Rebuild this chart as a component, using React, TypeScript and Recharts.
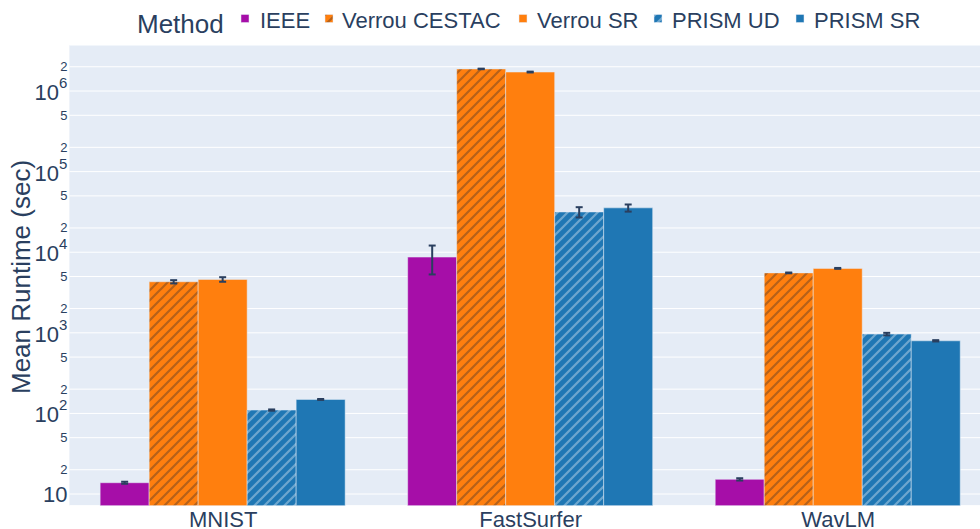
import {Bar, BarChart, CartesianGrid, ErrorBar, XAxis, YAxis} from "recharts";

// datasets
const categories = ["MNIST", "FastSurfer", "WavLM"];

const ieee = [13.8, 8700, 15.2];
const ieeeErr = [0.4, 3400, 0.5];
const verrouCestac = [4300, 1880000, 5540];
const verrouCestacErr = [200, 15000, 60];
const verrouSr = [4600, 1720000, 6300];
const verrouSrErr = [300, 20000, 80];
const prismUd = [110, 31600, 964];
const prismUdErr = [2, 4600, 35];
const prismSr = [149, 35500, 796];
const prismSrErr = [2, 3600, 15];

// y ticks (log axis, plotly style D2)
const yTicks = [10, 20, 50, 100, 200, 500, 1000, 2000, 5000, 10000, 20000, 50000,
  100000, 200000, 500000, 1000000, 2000000];

const chartData = categories.map((name, i) => ({
  name,
  ieee: ieee[i], ieeeErr: ieeeErr[i],
  verrouCestac: verrouCestac[i], verrouCestacErr: verrouCestacErr[i],
  verrouSr: verrouSr[i], verrouSrErr: verrouSrErr[i],
  prismUd: prismUd[i], prismUdErr: prismUdErr[i],
  prismSr: prismSr[i], prismSrErr: prismSrErr[i],
}));

const FONT = '"Liberation Sans", Arial, sans-serif';
const TEXT = "#2a3f5f";
const PURPLE = "#a60ea8";
const ORANGE = "#ff7f0e";
const BLUE = "#1f77b4";

const legendItems = [
  {label: "IEEE", fill: PURPLE, mx: 241, tx: 260},
  {label: "Verrou CESTAC", fill: "url(#hatchOrange)", mx: 325, tx: 342},
  {label: "Verrou SR", fill: ORANGE, mx: 519, tx: 537},
  {label: "PRISM UD", fill: "url(#hatchBlue)", mx: 654, tx: 672},
  {label: "PRISM SR", fill: BLUE, mx: 796, tx: 814},
];

function HatchDefs() {
  return (
    <defs>
      <pattern id="hatchOrange" patternUnits="userSpaceOnUse" width="10" height="10">
        <rect width="10" height="10" fill={ORANGE}/>
        <path d="M-2.5,2.5 l5,-5 M0,10 l10,-10 M7.5,12.5 l5,-5" stroke="rgba(90,60,40,0.45)" strokeWidth="2.2"/>
      </pattern>
      <pattern id="hatchBlue" patternUnits="userSpaceOnUse" width="10" height="10">
        <rect width="10" height="10" fill={BLUE}/>
        <path d="M-2.5,2.5 l5,-5 M0,10 l10,-10 M7.5,12.5 l5,-5" stroke="rgba(255,255,255,0.35)" strokeWidth="2.2"/>
      </pattern>
    </defs>
  );
}

const YTick = ({x, y, payload}: any) => {
  const v = payload.value as number;
  const exp = Math.floor(Math.log10(v) + 1e-9);
  const mant = Math.round(v / Math.pow(10, exp));
  if (mant !== 1) {
    return (
      <text x={x} y={y + 4.5} textAnchor="end" fontSize={13} fill={TEXT} fontFamily={FONT}>
        {mant}
      </text>
    );
  }
  if (exp === 1) {
    return (
      <text x={x} y={y + 7.5} textAnchor="end" fontSize={22} fill={TEXT} fontFamily={FONT}>10</text>
    );
  }
  return (
    <text x={x} y={y + 9} textAnchor="end" fontSize={22} fill={TEXT} fontFamily={FONT}>
      10<tspan dy={-12} fontSize={15}>{exp}</tspan>
    </text>
  );
};

const XTick = ({x, y, payload}: any) => (
  <text x={x} y={y + 19} textAnchor="middle" fontSize={22} fill={TEXT} fontFamily={FONT}>
    {payload.value}
  </text>
);

export default function App() {
  return (
    <div style={{position: "absolute", left: 0, top: 0, width: 980, height: 529, overflow: "hidden", background: "#fff"}}>
      <BarChart
        width={1000}
        height={529}
        data={chartData}
        margin={{top: 45, right: 8, bottom: 0, left: 0}}
        barCategoryGap="10%"
        barGap={0}
        style={{display: "block"}}
      >
        <HatchDefs/>
        <CartesianGrid vertical={false} stroke="#ffffff" strokeWidth={1} fill="#e5ecf6" fillOpacity={1}/>
        <XAxis dataKey="name" tickLine={false} axisLine={false} height={23.3} tickSize={0} tick={<XTick/>} interval={0}/>
        <YAxis
          type="number"
          scale="log"
          domain={[7.16, 3724000]}
          allowDataOverflow
          ticks={yTicks}
          interval={0}
          width={69.4}
          tickLine={false}
          axisLine={false}
          tickSize={0}
          tickMargin={2}
          tick={<YTick/>}
          label={{
            content: () => (
              <text x={30} y={277} transform="rotate(-90 30 277)" textAnchor="middle" fontSize={26} fill={TEXT} fontFamily={FONT}>
                Mean Runtime (sec)
              </text>
            ),
          }}
        />
        <Bar dataKey="ieee" fill={PURPLE} stroke="#e5ecf6" strokeWidth={0.5} isAnimationActive={false}>
          <ErrorBar dataKey="ieeeErr" width={3.5} strokeWidth={2} stroke={TEXT} direction="y"/>
        </Bar>
        <Bar dataKey="verrouCestac" fill="url(#hatchOrange)" stroke="#e5ecf6" strokeWidth={0.5} isAnimationActive={false}>
          <ErrorBar dataKey="verrouCestacErr" width={3.5} strokeWidth={2} stroke={TEXT} direction="y"/>
        </Bar>
        <Bar dataKey="verrouSr" fill={ORANGE} stroke="#e5ecf6" strokeWidth={0.5} isAnimationActive={false}>
          <ErrorBar dataKey="verrouSrErr" width={3.5} strokeWidth={2} stroke={TEXT} direction="y"/>
        </Bar>
        <Bar dataKey="prismUd" fill="url(#hatchBlue)" stroke="#e5ecf6" strokeWidth={0.5} isAnimationActive={false}>
          <ErrorBar dataKey="prismUdErr" width={3.5} strokeWidth={2} stroke={TEXT} direction="y"/>
        </Bar>
        <Bar dataKey="prismSr" fill={BLUE} stroke="#e5ecf6" strokeWidth={0.5} isAnimationActive={false}>
          <ErrorBar dataKey="prismSrErr" width={3.5} strokeWidth={2} stroke={TEXT} direction="y"/>
        </Bar>
      </BarChart>
      {/* legend drawn on top, plotly-like horizontal layout */}
      <svg width={980} height={45} style={{position: "absolute", left: 0, top: 0}}>
        <HatchDefs/>
        <text x={137} y={33} fontSize={26} fill={TEXT} fontFamily={FONT}>Method</text>
        {legendItems.map((it) => (
          <g key={it.label}>
            <rect x={it.mx} y={14.5} width={8} height={8} fill={it.fill} stroke="#e5ecf6" strokeWidth={0.5}/>
            <text x={it.tx} y={27.7} fontSize={22} fill={TEXT} fontFamily={FONT}>{it.label}</text>
          </g>
        ))}
      </svg>
    </div>
  );
}
